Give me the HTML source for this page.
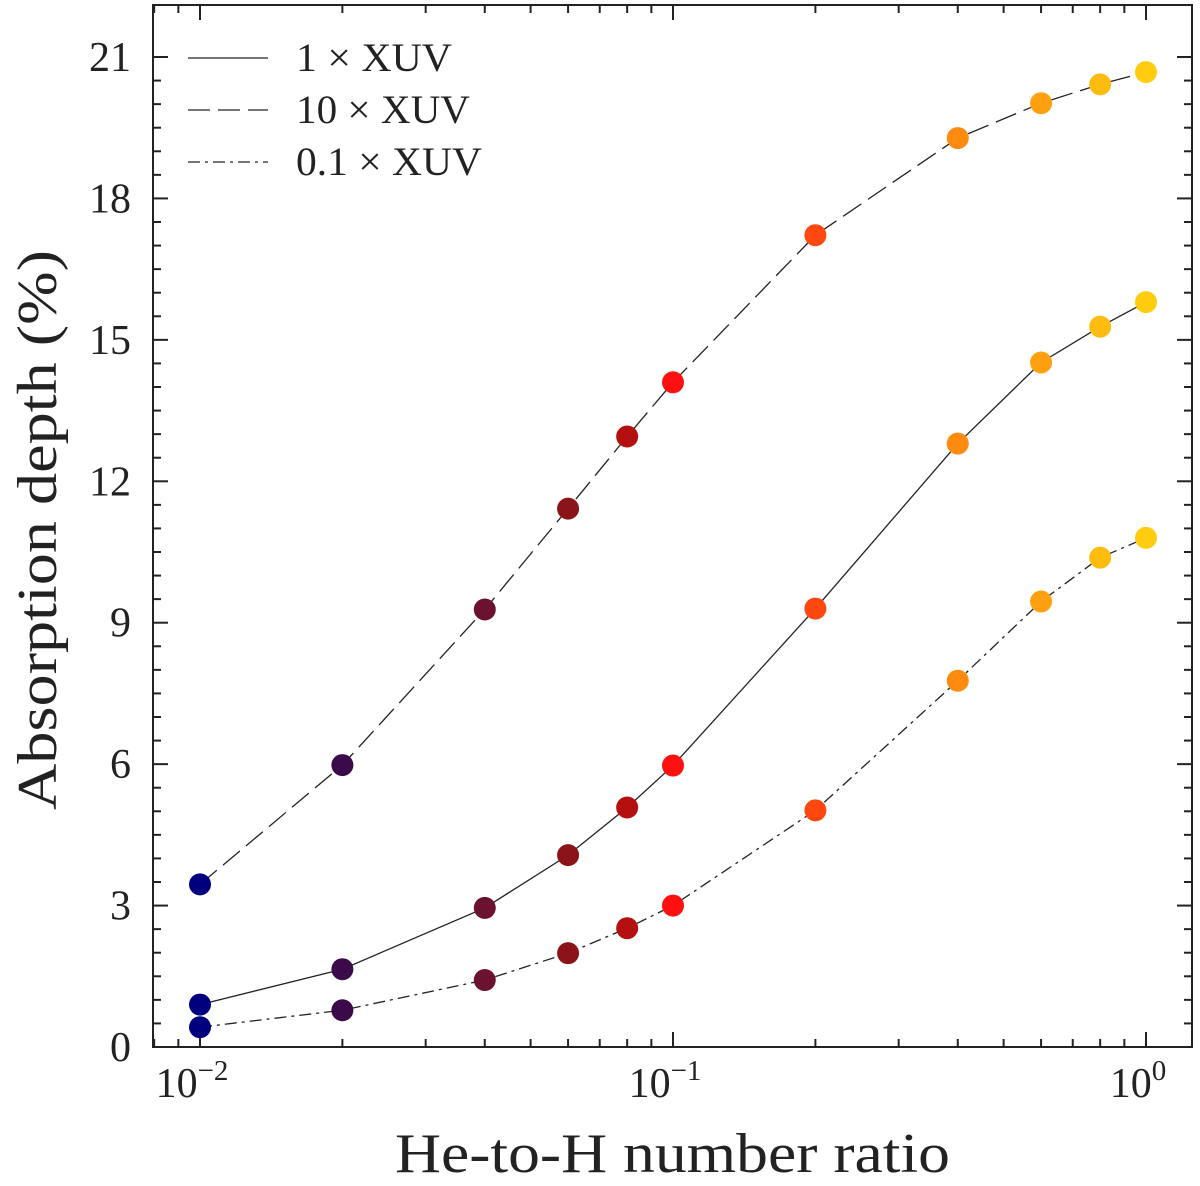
<!DOCTYPE html>
<html><head><meta charset="utf-8"><style>
body{margin:0;background:#fff}
svg text{font-family:"Liberation Serif",serif;fill:#222}
</style></head><body>
<svg id="chart" width="1200" height="1181" xmlns="http://www.w3.org/2000/svg">
<g id="plot"></g>
</svg>
<script>
const ratios=[0.01,0.02,0.04,0.06,0.08,0.1,0.2,0.4,0.6,0.8,1.0];
const xuv1=[0.9,1.65,2.95,4.07,5.08,5.97,9.3,12.8,14.52,15.28,15.8];
const xuv10=[3.45,5.98,9.28,11.42,12.95,14.1,17.22,19.28,20.02,20.42,20.68];
const xuv01=[0.42,0.78,1.42,1.99,2.52,3.0,5.02,7.77,9.45,10.38,10.8];
const pointColors=["#00007f","#3b0a48","#6a1230","#8b1418","#b51010","#ff1010","#ff4810","#ff8a10","#ffa010","#ffbc10","#ffcc10"];
const yTicks=[0,3,6,9,12,15,18,21];
const xTickLabels=["10","10","10"];
const xTickExps=["−2","−1","0"];

const L=153,R=1192,T=5,B=1047;
const X=v=>200+473*(Math.log10(v)+2);
const Y=v=>B-v*(990/21);
const NS="http://www.w3.org/2000/svg";
const g=document.getElementById('plot');
function mk(tag,attrs,parent){const e=document.createElementNS(NS,tag);for(const k in attrs)e.setAttribute(k,attrs[k]);(parent||g).appendChild(e);return e;}

const frame=mk('rect',{x:L,y:T,width:R-L,height:B-T,fill:'none',stroke:'#222','stroke-width':2});



for(let v=0;v<=21.01;v+=0.5){
  const y=Y(v);const major=Math.abs(v/3-Math.round(v/3))<1e-6;const len=major?15:8;
  mk('line',{x1:L,x2:L+len,y1:y,y2:y,stroke:'#222','stroke-width':2});
  mk('line',{x1:R,x2:R-len,y1:y,y2:y,stroke:'#222','stroke-width':2});
}
yTicks.forEach(v=>{
  const t=mk('text',{x:L-22,y:Y(v)+14,'text-anchor':'end','font-size':42});
  t.textContent=v;
  
  
});
for(let d=-3;d<=0;d++){
  for(let m=1;m<=9;m++){
    const v=m*Math.pow(10,d);const x=X(v);
    if(x<L||x>R)continue;
    const len=m===1?15:8;
    mk('line',{x1:x,x2:x,y1:B,y2:B-len,stroke:'#222','stroke-width':2});
    mk('line',{x1:x,x2:x,y1:T,y2:T+len,stroke:'#222','stroke-width':2});
  }
}
[0.01,0.1,1].forEach((v,i)=>{
  const t=mk('text',{x:X(v)-8,y:B+50,'text-anchor':'middle','font-size':42});
  t.textContent=xTickLabels[i];
  const s=document.createElementNS(NS,'tspan');s.setAttribute('dy','-17');s.setAttribute('font-size','29');s.textContent=xTickExps[i];t.appendChild(s);
  
  
});
const xt=mk('text',{x:395,y:1172,'font-size':56,textLength:555,lengthAdjust:'spacingAndGlyphs'});
xt.textContent='He-to-H number ratio';


const yt=mk('text',{x:-810,y:56,'font-size':56,transform:'rotate(-90)',textLength:560,lengthAdjust:'spacingAndGlyphs'});
yt.textContent='Absorption depth (%)';



const series=[[xuv10,'22,8','series-10xuv'],[xuv1,'','series-1xuv'],[xuv01,'12,5,3,5','series-01xuv']];
series.forEach(([vals,dash,name])=>{
  const p=mk('polyline',{points:ratios.map((r,i)=>X(r)+','+Y(vals[i])).join(' '),fill:'none',stroke:'#222','stroke-width':1.3,'stroke-dasharray':dash});
  
  
});
series.forEach(([vals,dash,name])=>{
  ratios.forEach((r,i)=>{
    const c=mk('circle',{cx:X(r),cy:Y(vals[i]),r:11,fill:pointColors[i]});
    
    
  });
});
const leg=[['','1 × XUV',58,156],['22,8','10 × XUV',110,174],['12,5,3,5','0.1 × XUV',162,186]];
leg.forEach(([d,label,y,w])=>{
  const l=mk('line',{x1:188,x2:268,y1:y,y2:y,stroke:'#222','stroke-width':1.3,'stroke-dasharray':d});
  
  
  const t=mk('text',{x:296,y:y+13,'font-size':40,textLength:w,lengthAdjust:'spacingAndGlyphs'});
  t.textContent=label;
  
  
});
</script>
</body></html>
